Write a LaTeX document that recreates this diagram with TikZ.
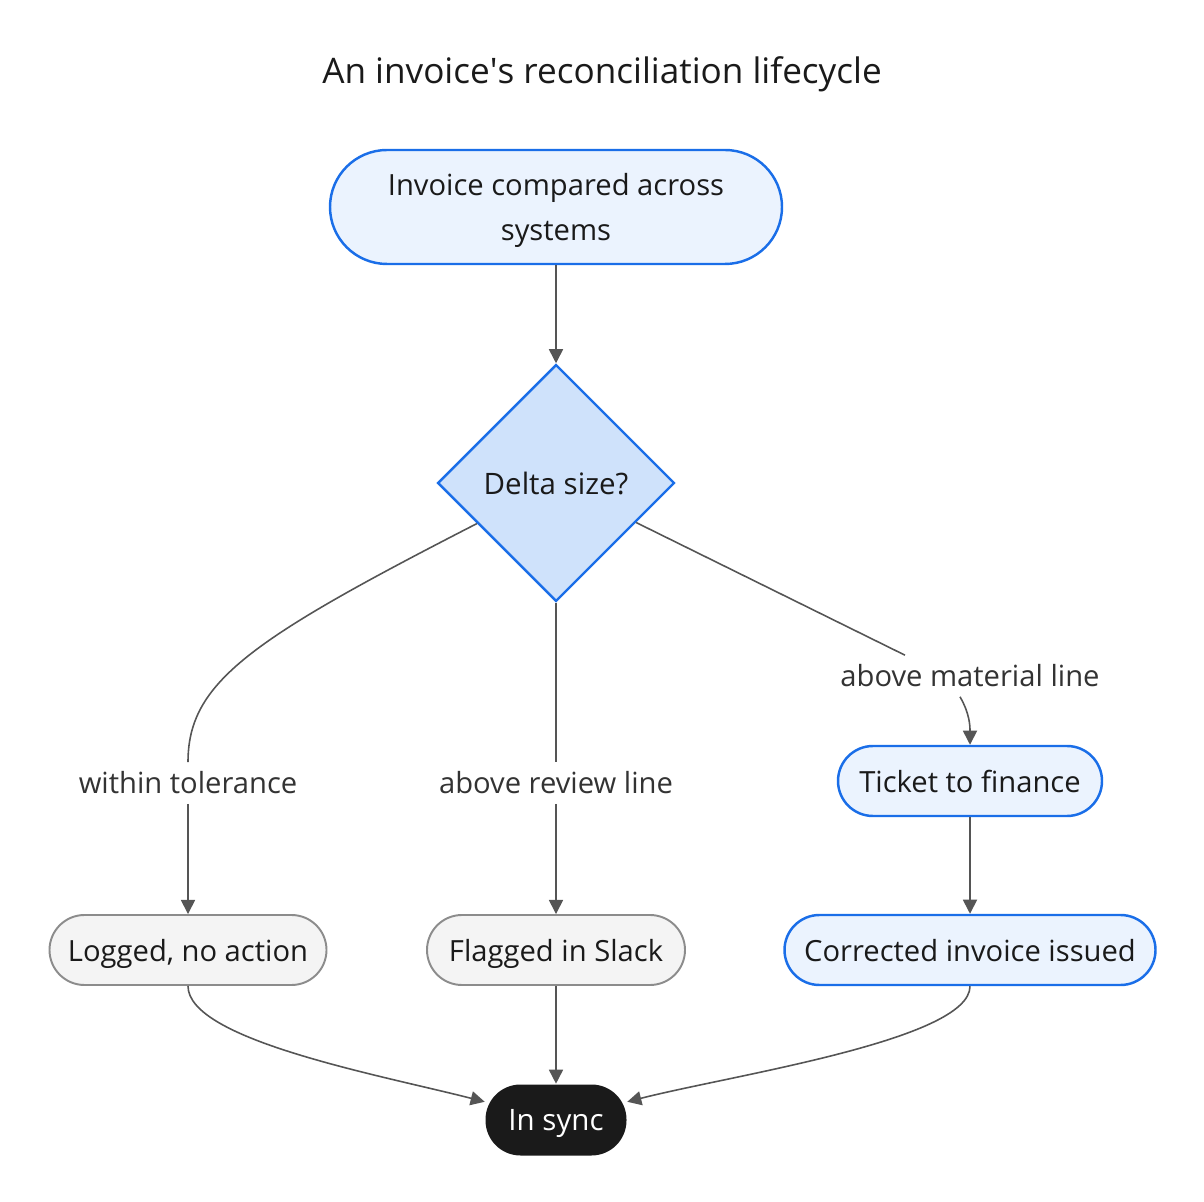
\documentclass[tikz,border=0pt]{standalone}
\usepackage{fontspec}
\setmainfont{Open Sans}
\usepackage{tikz}
\usetikzlibrary{shapes.geometric, arrows, arrows.meta}
\definecolor{flow-blue}{HTML}{1A6EE8}
\definecolor{flow-blue-light}{HTML}{EBF3FE}
\definecolor{flow-blue-mid}{HTML}{CFE2FB}
\definecolor{box-grey}{HTML}{8C8C8C}
\definecolor{box-fill}{HTML}{F4F4F4}
\definecolor{edge-grey}{HTML}{555555}
\definecolor{ink}{HTML}{1A1A1A}
\definecolor{label-grey}{HTML}{333333}
\tikzset{
every picture/.style={line width=0.45pt, >={Triangle[length=4pt,width=4pt]}},
%%%%%%%%%%  Node styles
title_node/.style={font=\fontsize{10}{12}\selectfont, text=ink, inner sep=0pt},
blue_box/.style={rectangle, rounded corners=0.35cm, draw=flow-blue, fill=flow-blue-light,
                 line width=0.7pt, minimum height=0.70cm, inner sep=0pt, text=ink,
                 text depth=0pt, font=\fontsize{8.3}{12.8}\selectfont},
grey_box/.style={rectangle, rounded corners=0.35cm, draw=box-grey, fill=box-fill,
                 line width=0.55pt, minimum height=0.70cm, inner sep=0pt, text=ink,
                 text depth=0pt, font=\fontsize{8.3}{12.8}\selectfont},
%% two line box, text height set by hand so the lines sit centred
start_box/.style={rectangle, rounded corners=0.57cm, draw=flow-blue, fill=flow-blue-light,
                 line width=0.7pt, minimum height=1.14cm, inner sep=0pt, text=ink,
                 text height=21.2pt, align=center, font=\fontsize{8.3}{12.8}\selectfont},
decision/.style={diamond, draw=flow-blue, fill=flow-blue-mid, line width=0.7pt,
                 minimum size=2.37cm, inner sep=0pt, text=ink,
                 font=\fontsize{8.4}{12.8}\selectfont},
end_node/.style={rectangle, rounded corners=0.35cm, fill=ink, minimum height=0.71cm,
                 inner sep=0pt, text=white, text depth=0pt,
                 font=\fontsize{8.4}{12.8}\selectfont},
edge_label/.style={fill=white, text=label-grey, inner sep=2.5pt,
                 font=\fontsize{8.3}{12.8}\selectfont},
%%%%%%% connector styles
plain_flow/.style={draw=edge-grey},
flow/.style={draw=edge-grey, ->}
}

\begin{document}
\begin{tikzpicture}
\useasboundingbox (0,0) rectangle (12.04,-12.02);
%% title
\node[title_node] (title) at (6.02,-0.74) {An invoice\textquotesingle s reconciliation lifecycle};
%% boxes
\node[start_box, minimum width=4.52cm] (start) at (5.56,-2.07) {Invoice compared across\\systems};
\node[decision] (delta) at (5.56,-4.83) {Delta size?};
\node[blue_box, minimum width=2.64cm] (ticket) at (9.70,-7.81) {Ticket to finance};
\node[grey_box, minimum width=2.77cm] (logged) at (1.88,-9.50) {Logged, no action};
\node[grey_box, minimum width=2.58cm] (flagged) at (5.56,-9.50) {Flagged in Slack};
\node[blue_box, minimum width=3.71cm] (corrected) at (9.70,-9.50) {Corrected invoice issued};
\node[end_node, minimum width=1.41cm] (insync) at (5.56,-11.20) {In sync};
%% branch labels
\node[edge_label] (tol) at (1.88,-7.83) {within tolerance};
\node[edge_label] (rev) at (5.56,-7.83) {above review line};
\node[edge_label] (mat) at (9.70,-6.76) {above material line};
%% edges
\draw[flow] (start) -- (delta);
\draw[plain_flow] (delta)
	.. controls +(-3.06,-1.57) and +(0,0.8) .. (tol.north);
\draw[flow] (tol) -- (logged);
\draw[plain_flow] (delta) -- (rev);
\draw[flow] (rev) -- (flagged);
\draw[plain_flow] (delta) -- ([xshift=-6.5mm]mat.north);
\draw[flow] ([xshift=-1mm]mat.south) to[out=-60,in=90] (ticket);
\draw[flow] (ticket) -- (corrected);
%% into the end state
\draw[flow] (logged)
	.. controls +(0,-0.9) and +(-1.76,0.45) .. (insync);
\draw[flow] (flagged) -- (insync);
\draw[flow] (corrected)
	.. controls +(0,-0.9) and +(1.76,0.45) .. (insync);
\end{tikzpicture}
\end{document}
